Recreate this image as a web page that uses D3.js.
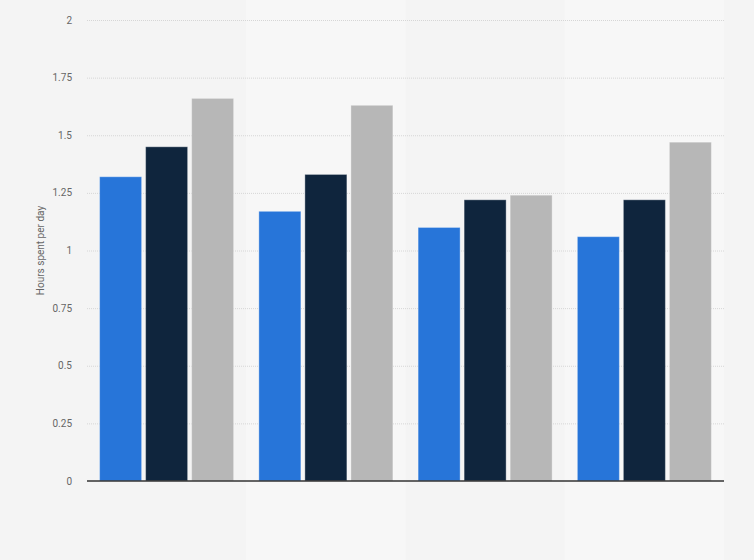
<!DOCTYPE html>
<html>
<head>
<meta charset="utf-8">
<script src="https://cdn.jsdelivr.net/npm/d3@7"></script>
<style>
  html, body { margin: 0; padding: 0; background: #f4f4f4; }
  svg { display: block; }
</style>
</head>
<body>
<div id="chart"></div>
<script>
// Chart data: four groups, three series each
const groups = ["G1", "G2", "G3", "G4"];
const seriesNames = ["Series 1", "Series 2", "Series 3"];
const series1 = [1.32, 1.17, 1.10, 1.06];
const series2 = [1.45, 1.33, 1.22, 1.22];
const series3 = [1.66, 1.63, 1.24, 1.47];
const yTicks = [0, 0.25, 0.5, 0.75, 1, 1.25, 1.5, 1.75, 2];
const yTickLabels = ["0", "0.25", "0.5", "0.75", "1", "1.25", "1.5", "1.75", "2"];
const seriesColors = ["#2775d9", "#0f253d", "#b7b7b7"];

// Dimensions
const width = 754, height = 560;
const margin = {top: 20, right: 30, bottom: 79, left: 87};

const svg = d3.select("#chart").append("svg")
  .attr("width", width)
  .attr("height", height);

svg.append("rect")
  .attr("width", width)
  .attr("height", height)
  .attr("fill", "#f4f4f4");

// Scales
const x0 = d3.scaleBand()
  .domain(groups)
  .range([margin.left, width - margin.right])
  .padding(0);

const x1 = d3.scaleBand()
  .domain(seriesNames)
  .range([0, x0.bandwidth()])
  .paddingInner(0.087)
  .paddingOuter(0.274);

const y = d3.scaleLinear()
  .domain([0, 2])
  .range([height - margin.bottom, margin.top]);

// Alternating lighter bands behind groups 2 and 4
svg.append("g")
  .selectAll("rect")
  .data(groups.filter((d, i) => i % 2 === 1))
  .join("rect")
  .attr("x", d => x0(d))
  .attr("y", 0)
  .attr("width", x0.bandwidth())
  .attr("height", height)
  .attr("fill", "#f7f7f7");

// Dotted gridlines
svg.append("g")
  .selectAll("line")
  .data(yTicks.filter(d => d > 0))
  .join("line")
  .attr("x1", margin.left)
  .attr("x2", width - margin.right)
  .attr("y1", d => y(d) + 0.5)
  .attr("y2", d => y(d) + 0.5)
  .attr("stroke", "#d6d6d6")
  .attr("stroke-width", 1)
  .attr("stroke-dasharray", "1,1");

// Y tick labels
svg.append("g")
  .selectAll("text")
  .data(yTicks)
  .join("text")
  .attr("x", 72)
  .attr("y", d => y(d))
  .attr("dy", "0.35em")
  .attr("text-anchor", "end")
  .attr("fill", "#666")
  .attr("font-size", "10px")
  .attr("font-family", "Roboto, sans-serif")
  .text((d, i) => yTickLabels[i]);

// Y axis title
svg.append("text")
  .attr("transform", `translate(44, ${(y(0) + y(2)) / 2}) rotate(-90)`)
  .attr("text-anchor", "middle")
  .attr("fill", "#666")
  .attr("font-size", "10px")
  .attr("font-family", "Roboto, sans-serif")
  .text("Hours spent per day");

// Bars
const allSeries = [series1, series2, series3];
const barData = groups.flatMap((g, gi) =>
  seriesNames.map((s, si) => ({group: g, series: s, si: si, value: allSeries[si][gi]}))
);

svg.append("g")
  .selectAll("rect")
  .data(barData)
  .join("rect")
  .attr("x", d => x0(d.group) + x1(d.series))
  .attr("y", d => y(d.value))
  .attr("width", x1.bandwidth())
  .attr("height", d => y(0) - y(d.value))
  .attr("fill", d => seriesColors[d.si])
  .attr("stroke", "rgba(255,255,255,0.35)")
  .attr("stroke-width", 1);

// Baseline
svg.append("line")
  .attr("x1", margin.left)
  .attr("x2", width - margin.right)
  .attr("y1", y(0))
  .attr("y2", y(0))
  .attr("stroke", "#333")
  .attr("stroke-width", 1.5);
</script>
</body>
</html>
